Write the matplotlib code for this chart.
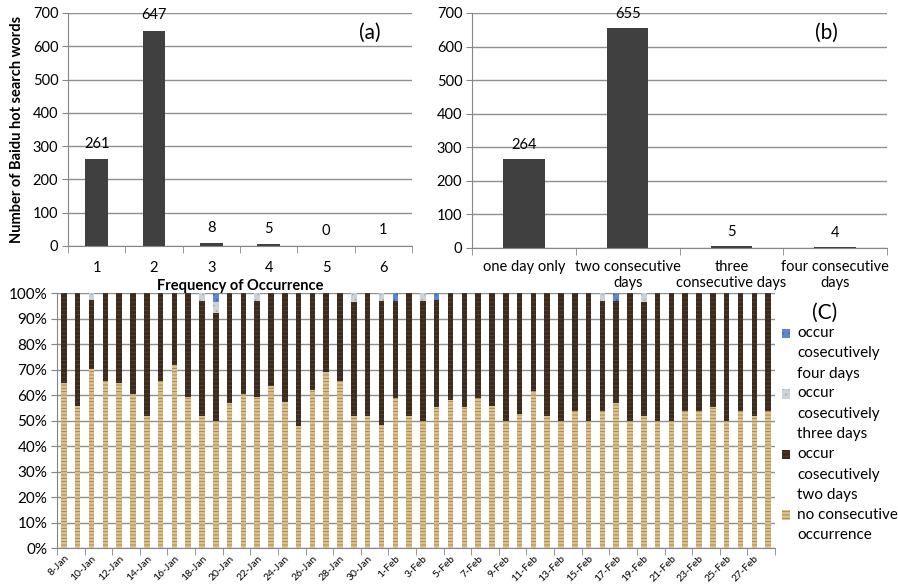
import matplotlib.pyplot as plt
from matplotlib.legend_handler import HandlerPatch, update_from_first_child
from matplotlib.patches import Rectangle
import numpy as np

plt.rcParams['font.family'] = ['Lato', 'DejaVu Sans']
plt.rcParams['hatch.linewidth'] = 0.6

# panel (a): how many times a hot search word occurs
freq_labels = ['1', '2', '3', '4', '5', '6']
freq_counts = [261, 647, 8, 5, 0, 1]

# panel (b): longest run of consecutive days
run_labels = ['one day only', 'two consecutive\ndays', 'three\nconsecutive days',
              'four consecutive\ndays']
run_counts = [264, 655, 5, 4]

# panel (C): daily share (%) of each kind of word
dates = [str(d) + '-Jan' for d in range(8, 32)] + [str(d) + '-Feb' for d in range(1, 29)]
no_consec = [64.7, 55.6, 70.3, 65.6, 64.7, 60.5, 51.9, 65.6, 71.9, 59.3, 51.9, 49.9, 56.9,
             60.5, 59.3, 63.4, 57.3, 47.7, 62.1, 69.0, 65.6, 51.9, 51.9, 48.4, 58.8, 51.9,
             49.9, 55.2, 58.2, 55.2, 58.8, 55.6, 49.9, 52.5, 61.7, 51.9, 49.9, 53.6, 49.9,
             53.6, 56.9, 49.9, 51.9, 49.9, 49.9, 53.6, 53.9, 55.2, 49.9, 53.9, 51.9, 53.9]
two_days = [35.3, 44.4, 27.1, 34.4, 35.3, 39.5, 48.1, 34.4, 28.1, 40.7, 44.8, 42.3, 43.1,
            39.5, 37.7, 36.6, 42.7, 52.3, 37.9, 31.0, 34.4, 44.6, 48.1, 48.3, 37.9, 48.1,
            46.8, 41.9, 41.8, 44.8, 41.2, 44.4, 50.1, 47.5, 38.3, 48.1, 50.1, 46.4, 50.1,
            43.1, 39.8, 50.1, 44.6, 50.1, 50.1, 46.4, 46.1, 44.8, 50.1, 46.1, 48.1, 46.1]
three_days = [0, 0, 2.6, 0, 0, 0, 0, 0, 0, 0, 3.3, 4.3, 0,
              0, 3.0, 0, 0, 0, 0, 0, 0, 3.5, 0, 3.3, 0, 0,
              3.3, 0, 0, 0, 0, 0, 0, 0, 0, 0, 0, 0, 0,
              3.3, 0, 0, 3.5, 0, 0, 0, 0, 0, 0, 0, 0, 0]
four_days = [0, 0, 0, 0, 0, 0, 0, 0, 0, 0, 0, 3.5, 0,
             0, 0, 0, 0, 0, 0, 0, 0, 0, 0, 0, 3.3, 0,
             0, 2.9, 0, 0, 0, 0, 0, 0, 0, 0, 0, 0, 0,
             0, 3.3, 0, 0, 0, 0, 0, 0, 0, 0, 0, 0, 0]

axis_grey = '#868686'
grid_grey = '#8f8f8f'
bar_grey = '#404040'


def excel_axes(ax, n):
    ax.spines['top'].set_visible(False)
    ax.spines['right'].set_visible(False)
    ax.spines['left'].set_color(axis_grey)
    ax.spines['bottom'].set_color(axis_grey)
    ax.yaxis.grid(True, color=grid_grey, linewidth=1)
    ax.set_axisbelow(True)
    ax.set_xlim(-0.5, n - 0.5)
    ax.tick_params(axis='y', length=4, color=axis_grey, labelsize=10.5, pad=3)
    ax.set_xticks(np.arange(-0.5, n), minor=True)
    ax.tick_params(axis='x', which='minor', length=5, color=axis_grey)
    ax.tick_params(axis='x', which='major', length=0, labelsize=10.5)


# legend square sits next to the first line of a wrapped label
def top_square(shift):
    def make(legend, orig_handle, xdescent, ydescent, width, height, fontsize):
        return Rectangle((-xdescent, -ydescent + shift), width, height)
    return HandlerPatch(patch_func=make, update_func=update_from_first_child)


fig = plt.figure(figsize=(8.98, 5.85), dpi=100)

# (a)
ax_a = fig.add_axes([0.0757, 0.5795, 0.3831, 0.3983])
x = np.arange(len(freq_counts))
bars = ax_a.bar(x, freq_counts, width=0.4, color=bar_grey)
ax_a.bar_label(bars, padding=6, fontsize=10.5)
excel_axes(ax_a, len(freq_counts))
ax_a.set_ylim(0, 700)
ax_a.set_yticks(range(0, 701, 100))
ax_a.set_xticks(x)
ax_a.set_xticklabels(freq_labels)
ax_a.tick_params(axis='x', which='major', pad=11)
ax_a.set_xlabel('Frequency of Occurrence', fontweight='bold', fontsize=10.5, labelpad=3)
ax_a.set_ylabel('Number of Baidu hot search words', fontweight='bold', fontsize=10.5, labelpad=6)
ax_a.text(0.878, 0.914, '(a)', transform=ax_a.transAxes, fontsize=15, ha='center', va='center')

# (b)
ax_b = fig.add_axes([0.5256, 0.5761, 0.4622, 0.4017])
x = np.arange(len(run_counts))
bars = ax_b.bar(x, run_counts, width=0.4, color=bar_grey)
ax_b.bar_label(bars, padding=5, fontsize=10.5)
excel_axes(ax_b, len(run_counts))
ax_b.set_ylim(0, 700)
ax_b.set_yticks(range(0, 701, 100))
ax_b.set_xticks(x)
ax_b.set_xticklabels(run_labels, linespacing=1.1)
ax_b.tick_params(axis='x', which='major', pad=9)
ax_b.text(0.853, 0.915, '(b)', transform=ax_b.transAxes, fontsize=15, ha='center', va='center')

# (C)
ax_c = fig.add_axes([0.0635, 0.0632, 0.7995, 0.4359])
x = np.arange(len(dates))
b1 = np.array(no_consec)
b2 = b1 + np.array(two_days)
b3 = b2 + np.array(three_days)
p1 = ax_c.bar(x, no_consec, width=0.4, color='#dcc28e', edgecolor='#a3804c', linewidth=0,
              hatch='-----', label='no consecutive\noccurrence')
p2 = ax_c.bar(x, two_days, bottom=b1, width=0.4, color='#3b2a1e', edgecolor='#55402f',
              linewidth=0, hatch='----', label='occur\ncosecutively\ntwo days')
p3 = ax_c.bar(x, three_days, bottom=b2, width=0.4, color='#cdd1d8', edgecolor='#a9aeb6',
              linewidth=0, hatch='...', label='occur\ncosecutively\nthree days')
p4 = ax_c.bar(x, four_days, bottom=b3, width=0.4, color='#5d88cc', edgecolor='#3f68ad',
              linewidth=0, hatch='...', label='occur\ncosecutively\nfour days')
excel_axes(ax_c, len(dates))
ax_c.set_xticks(np.arange(-0.5, len(dates), 2), minor=True)
ax_c.set_ylim(0, 100)
ax_c.set_yticks(range(0, 101, 10))
ax_c.set_yticklabels([str(v) + '%' for v in range(0, 101, 10)])
ax_c.tick_params(axis='y', labelsize=11)
ax_c.set_xticks(x[::2])
ax_c.set_xticklabels(dates[::2], rotation=45, ha='right', rotation_mode='anchor', fontsize=7.5)
ax_c.tick_params(axis='x', which='major', pad=4)

handles = [p4, p3, p2, p1]
leg = fig.legend(handles, [h.get_label() for h in handles], loc='upper left',
                 bbox_to_anchor=(0.864, 0.454), frameon=False, fontsize=11,
                 handlelength=0.55, handleheight=0.55, handletextpad=0.45,
                 labelspacing=0.36, borderaxespad=0,
                 handler_map={p4: top_square(14.4), p3: top_square(14.4),
                              p2: top_square(14.4), p1: top_square(7.2)})
for t in leg.get_texts():
    t.set_linespacing(1.6)
fig.text(0.9187, 0.465, '(C)', fontsize=15, ha='center', va='center')

fig.savefig('out.png', dpi=100)
